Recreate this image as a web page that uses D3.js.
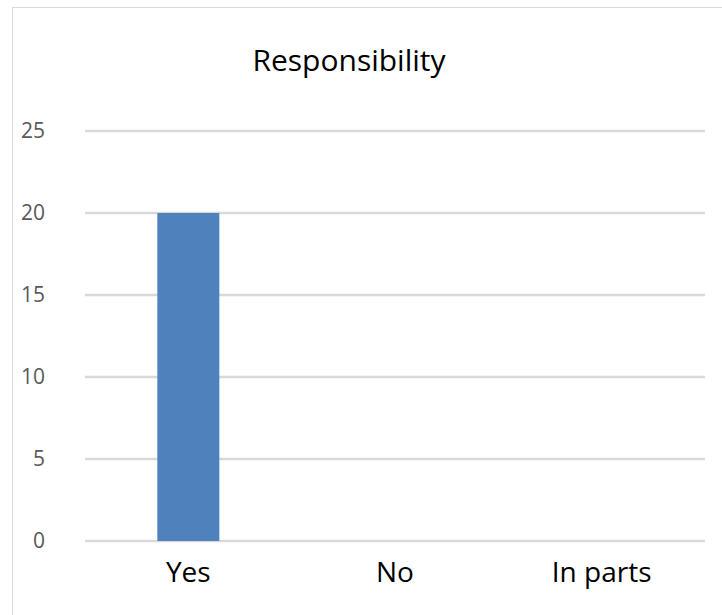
<!DOCTYPE html>
<html>
<head>
<meta charset="utf-8">
<script src="https://cdn.jsdelivr.net/npm/d3@7"></script>
<style>
  body { margin: 0; background: #fff; }
  svg text { font-family: "Liberation Sans Narrow", "Open Sans", sans-serif; }
</style>
</head>
<body>
<div id="chart"></div>
<script>
var categories = ['Yes', 'No', 'In parts']
var values = [20, 0, 0]
var yTicks = [0, 5, 10, 15, 20, 25]
var title = 'Responsibility'

var width = 722, height = 615
var margin = {left: 85, right: 17, top: 131, bottom: 74}

var svg = d3.select('#chart').append('svg')
  .attr('width', width).attr('height', height)

// outer chart frame
svg.append('rect')
  .attr('x', 12.5).attr('y', 7.5)
  .attr('width', 740).attr('height', 640)
  .attr('fill', '#fff').attr('stroke', '#d9d9d9')

var x = d3.scaleBand()
  .domain(categories)
  .range([margin.left, width - margin.right])
  .paddingInner(0.7).paddingOuter(0.35)

var y = d3.scaleLinear()
  .domain([0, 25])
  .range([height - margin.bottom, margin.top])

// gridlines
svg.append('g').selectAll('line')
  .data(yTicks)
  .join('line')
  .attr('x1', margin.left).attr('x2', width - margin.right)
  .attr('y1', d => y(d)).attr('y2', d => y(d))
  .attr('stroke', '#d9d9d9').attr('stroke-width', 2.5)

// y labels
svg.append('g').selectAll('text')
  .data(yTicks)
  .join('text')
  .attr('x', 45).attr('y', d => y(d))
  .attr('dy', '0.35em')
  .attr('text-anchor', 'end')
  .attr('font-size', 21)
  .attr('fill', '#595959')
  .text(d => d)

// bars
svg.append('g').selectAll('rect')
  .data(values)
  .join('rect')
  .attr('x', (d, i) => x(categories[i]))
  .attr('y', d => y(d))
  .attr('width', x.bandwidth())
  .attr('height', d => y(0) - y(d))
  .attr('fill', '#4f81bd')

// category labels
svg.append('g').selectAll('text')
  .data(categories)
  .join('text')
  .attr('x', d => x(d) + x.bandwidth() / 2)
  .attr('y', 582)
  .attr('text-anchor', 'middle')
  .attr('font-size', 28)
  .attr('fill', '#000')
  .text(d => d)

svg.append('text')
  .attr('x', 349).attr('y', 71)
  .attr('text-anchor', 'middle')
  .attr('font-size', 30)
  .attr('fill', '#000')
  .text(title)
</script>
</body>
</html>
